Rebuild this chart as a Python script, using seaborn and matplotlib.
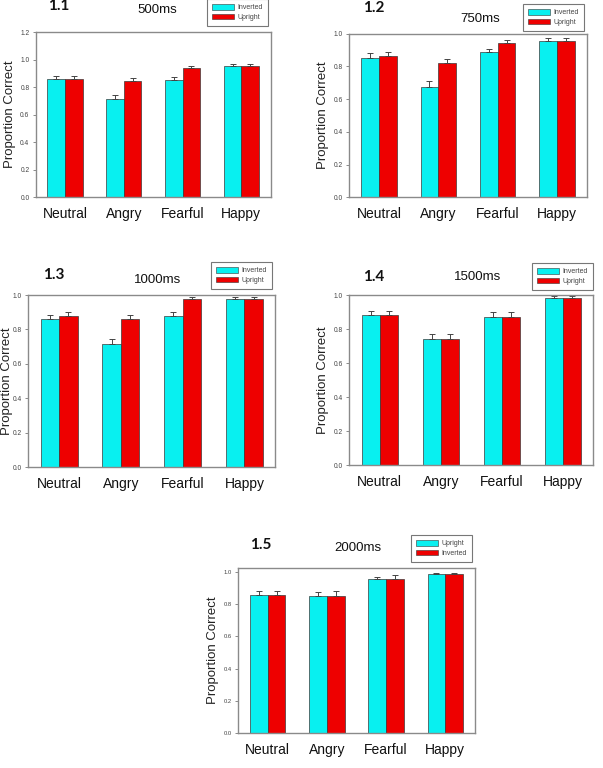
import matplotlib
matplotlib.use("Agg")
import matplotlib.pyplot as plt
import seaborn as sns
import pandas as pd
from matplotlib.patches import Patch
from matplotlib.container import BarContainer

# ---------------- data ----------------
emotions = ["Neutral", "Angry", "Fearful", "Happy"]

panel_ids = ["1.1", "1.2", "1.3", "1.4", "1.5"]
durations = ["500ms", "750ms", "1000ms", "1500ms", "2000ms"]

# cyan series / red series per panel
cyan_500 = [0.857, 0.717, 0.855, 0.956]
red_500 = [0.860, 0.845, 0.937, 0.952]
cyan_err_500 = [0.022, 0.026, 0.022, 0.015]
red_err_500 = [0.021, 0.024, 0.017, 0.014]

cyan_750 = [0.853, 0.676, 0.890, 0.957]
red_750 = [0.866, 0.821, 0.945, 0.957]
cyan_err_750 = [0.027, 0.033, 0.018, 0.014]
red_err_750 = [0.022, 0.022, 0.014, 0.014]

cyan_1000 = [0.859, 0.714, 0.880, 0.975]
red_1000 = [0.876, 0.863, 0.975, 0.975]
cyan_err_1000 = [0.023, 0.031, 0.023, 0.011]
red_err_1000 = [0.023, 0.021, 0.011, 0.011]

cyan_1500 = [0.884, 0.743, 0.875, 0.984]
red_1500 = [0.884, 0.743, 0.875, 0.984]
cyan_err_1500 = [0.022, 0.030, 0.025, 0.010]
red_err_1500 = [0.022, 0.030, 0.025, 0.010]

cyan_2000 = [0.860, 0.852, 0.959, 0.988]
red_2000 = [0.860, 0.852, 0.959, 0.988]
cyan_err_2000 = [0.022, 0.022, 0.013, 0.006]
red_err_2000 = [0.024, 0.030, 0.021, 0.006]

legend_labels_1_to_4 = ["Inverted", "Upright"]
legend_labels_5 = ["Upright", "Inverted"]

y_max = [1.2, 1.0, 1.0, 1.0, 1.025]
y_ticks_12 = [0.0, 0.2, 0.4, 0.6, 0.8, 1.0, 1.2]
y_ticks_10 = [0.0, 0.2, 0.4, 0.6, 0.8, 1.0]

# ---------------- style ----------------
CYAN = "#08F0F0"
RED = "#EE0000"
W, H = 603, 768

sns.set_theme(style="white")
plt.rcParams["font.family"] = ["Liberation Sans", "DejaVu Sans"]

fig = plt.figure(figsize=(W / 100, H / 100), dpi=100)


def fx(px):
    return px / W


def fy(py):
    return 1 - py / H


# axes boxes in pixels: left, top, right, bottom
boxes = [
    (35.7, 32.3, 270.7, 197.0),
    (349.3, 33.7, 586.7, 197.3),
    (28.3, 295.0, 275.3, 467.3),
    (349.3, 295.3, 593.3, 465.3),
    (238.0, 568.0, 475.0, 733.0),
]
ylabel_x = [10, 322.7, 7.0, 323, 213.0]
title_pos = [(157, 10), (480, 18.7), (158, 280), (478, 277), (358, 548)]
id_pos = [(47.7, 6), (363, 8), (43, 275), (363, 277), (250, 545)]
legend_pos = [(268, -1), (584, 4), (272, 262), (593, 263), (472, 535)]
ytick_size = [4.8, 4.8, 4.8, 4.8, 4.2]

series_cyan = [cyan_500, cyan_750, cyan_1000, cyan_1500, cyan_2000]
series_red = [red_500, red_750, red_1000, red_1500, red_2000]
errs_cyan = [cyan_err_500, cyan_err_750, cyan_err_1000, cyan_err_1500, cyan_err_2000]
errs_red = [red_err_500, red_err_750, red_err_1000, red_err_1500, red_err_2000]
legend_sets = [legend_labels_1_to_4] * 4 + [legend_labels_5]

for i in range(5):
    l, t, r, b = boxes[i]
    ax = fig.add_axes([fx(l), fy(b), (r - l) / W, (b - t) / H])
    labels = legend_sets[i]
    df = pd.DataFrame({
        "emotion": emotions * 2,
        "value": series_cyan[i] + series_red[i],
        "series": [labels[0]] * 4 + [labels[1]] * 4,
    })
    sns.barplot(data=df, x="emotion", y="value", hue="series",
                hue_order=labels, order=emotions,
                palette=[CYAN, RED], saturation=1, width=0.6, dodge=True,
                edgecolor="#3a3a3a", linewidth=0.5, errorbar=None,
                legend=False, ax=ax)
    errs = [errs_cyan[i], errs_red[i]]
    bar_conts = [c for c in ax.containers if isinstance(c, BarContainer)]
    for k, cont in enumerate(bar_conts):
        for bar in list(cont):
            cx = bar.get_x() + bar.get_width() / 2
            h = bar.get_height()
            idx = int(round(cx))
            ax.errorbar(cx, h, yerr=[[0], [errs[k][idx]]], fmt="none",
                        ecolor="#444444", elinewidth=0.7, capsize=2.0,
                        capthick=0.7, zorder=1)
    ax.set_xlim(-0.5, 3.5)
    ax.set_ylim(0, y_max[i])
    ticks = y_ticks_12 if i == 0 else y_ticks_10
    ax.set_yticks(ticks)
    ax.set_yticklabels([f"{v:.1f}" for v in ticks])
    ax.set_xlabel("")
    ax.set_ylabel("")
    ax.tick_params(axis="y", which="both", left=True, length=2.5, width=0.6,
                   color="#777777", labelsize=ytick_size[i],
                   labelcolor="#444444", pad=2)
    ax.tick_params(axis="x", length=0, labelsize=10, labelcolor="#111111", pad=7)
    for s in ax.spines.values():
        s.set_color("#8a8a8a")
        s.set_linewidth(1.0)
    ax.set_facecolor("white")

    fig.text(fx(ylabel_x[i]), fy((t + b) / 2), "Proportion Correct",
             rotation=90, ha="center", va="center", fontsize=9.5,
             color="#222222")
    fig.text(fx(title_pos[i][0]), fy(title_pos[i][1]), durations[i],
             ha="center", va="center", fontsize=9.5, color="#111111")
    fig.text(fx(id_pos[i][0]), fy(id_pos[i][1]), panel_ids[i],
             ha="left", va="center", fontsize=11, fontweight="bold",
             family=["Lato", "DejaVu Sans"], color="#111111")

    handles = [Patch(facecolor=CYAN, edgecolor="#333333", linewidth=0.4),
               Patch(facecolor=RED, edgecolor="#333333", linewidth=0.4)]
    lx, ly = legend_pos[i]
    leg = ax.legend(handles, labels, loc="upper right",
                    bbox_to_anchor=(fx(lx), fy(ly)),
                    bbox_transform=fig.transFigure, fontsize=5,
                    frameon=True, fancybox=False, framealpha=1,
                    edgecolor="#777777", handlelength=3.2, handleheight=0.9,
                    handletextpad=0.5, labelspacing=0.35, borderpad=0.7,
                    borderaxespad=0)
    leg.get_frame().set_linewidth(0.8)
    for txt in leg.get_texts():
        txt.set_color("#444444")

fig.savefig("out.png", dpi=100, facecolor="white")
